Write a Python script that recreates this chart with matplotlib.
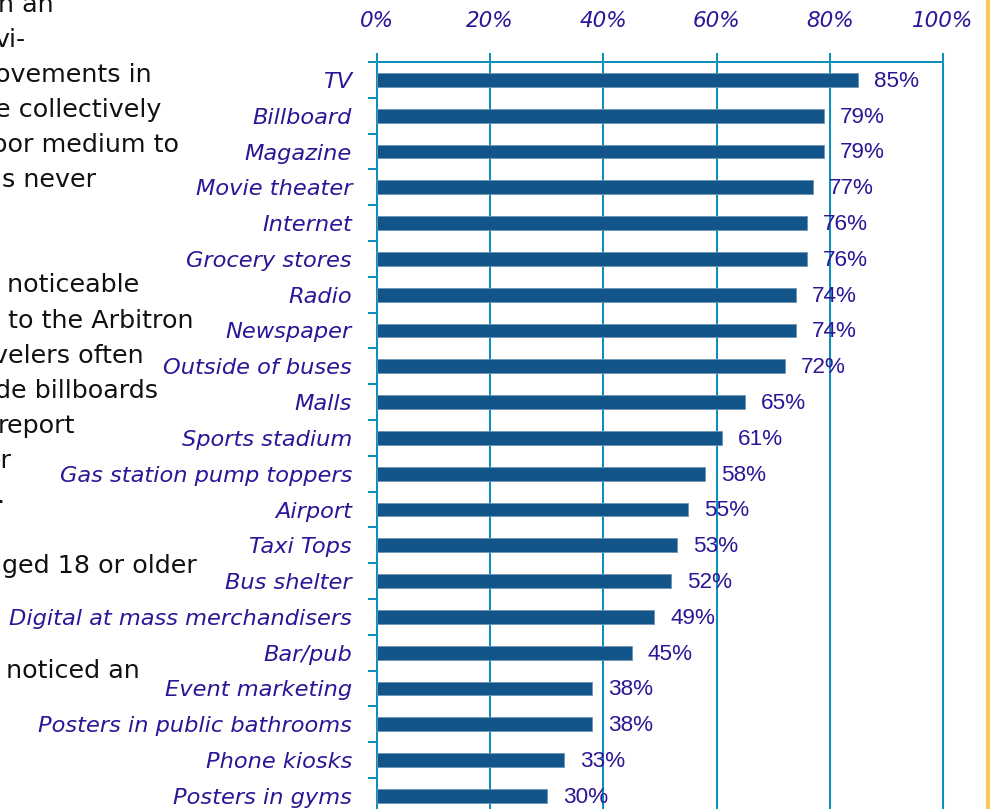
import matplotlib
matplotlib.use("Agg")
import matplotlib.pyplot as plt
from matplotlib.patches import Rectangle

# share of respondents noticing each out-of-home medium
media = ["TV", "Billboard", "Magazine", "Movie theater", "Internet",
         "Grocery stores", "Radio", "Newspaper", "Outside of buses", "Malls",
         "Sports stadium", "Gas station pump toppers", "Airport", "Taxi Tops",
         "Bus shelter", "Digital at mass merchandisers", "Bar/pub",
         "Event marketing", "Posters in public bathrooms", "Phone kiosks",
         "Posters in gyms"]
pct = [85, 79, 79, 77, 76, 76, 74, 74, 72, 65, 61, 58, 55, 53, 52, 49, 45,
       38, 38, 33, 30]
xticks = [0, 20, 40, 60, 80, 100]

# running body text beside the chart (cut by the page edge)
body_lines = ["n an", "vi-", "ovements in", "e collectively", "oor medium to",
              "s never", "", "", " noticeable", " to the Arbitron",
              "velers often", "de billboards", "report", "or", ".", "",
              "ged 18 or older", "", "", " noticed an"]
body_right = [54, 25, 152, 161, 179, 96, 0, 0, 139, 193, 144, 158, 75, 12, 4,
              0, 197, 0, 0, 140]

GRID = "#0b90c0"
BAR = "#12558a"
INK = "#2a1696"

W, H = 990, 809
fig = plt.figure(figsize=(W / 100, H / 100), dpi=100)

row = 35.8
top = 62
n = len(media)
bottom = top + row * n
ax = fig.add_axes([377 / W, 1 - bottom / H, (943 - 377) / W, (bottom - top) / H])

ys = list(range(n))
ax.barh(ys, pct, height=0.39, color=BAR, edgecolor="#6f93b3", linewidth=0.6,
        zorder=3)
ax.set_ylim(n - 0.5, -0.5)
ax.set_xlim(0, 100)

for v, y in zip(pct, ys):
    ax.annotate(f"{v}%", (v, y), xytext=(11.5, -1), textcoords="offset points",
                va="center", ha="left", fontsize=16.2, color=INK,
                family="Liberation Sans", zorder=5)

ax.xaxis.tick_top()
ax.set_xticks(xticks)
ax.set_xticklabels([f"{t}%" for t in xticks], fontsize=15.5, color=INK,
                   family="DejaVu Sans", style="oblique")
ax.tick_params(axis="x", length=6.5, width=1.45, color=GRID, pad=16)

ax.set_yticks([y - 0.5 for y in ys])
ax.set_yticklabels([])
ax.set_yticks(ys, minor=True)
ax.set_yticklabels(media, minor=True, fontsize=16.2, color=INK,
                   family="DejaVu Sans", style="oblique")
ax.tick_params(axis="y", which="major", length=6.5, width=1.45, color=GRID,
               direction="out")
ax.tick_params(axis="y", which="minor", length=0, pad=18)
for lab in ax.get_yticklabels(minor=True):
    lab.set_y(lab.get_position()[1])

ax.grid(axis="x", color=GRID, linewidth=1.45, zorder=1)
for side in ["left", "right", "top"]:
    ax.spines[side].set_color(GRID)
    ax.spines[side].set_linewidth(1.45)
ax.spines["bottom"].set_visible(False)

for i, (txt, xr) in enumerate(zip(body_lines, body_right)):
    if not txt:
        continue
    y = 1 - (11.9 + 35.07 * i) / H
    fig.text(xr / W, y, txt, ha="right", va="baseline", fontsize=18.3,
             color="#111111", family="DejaVu Sans")

fig.patches.append(Rectangle((986 / W, 0), 4 / W, 1, transform=fig.transFigure,
                             color="#f7c95c", zorder=0))

fig.savefig("out.png", dpi=100)
